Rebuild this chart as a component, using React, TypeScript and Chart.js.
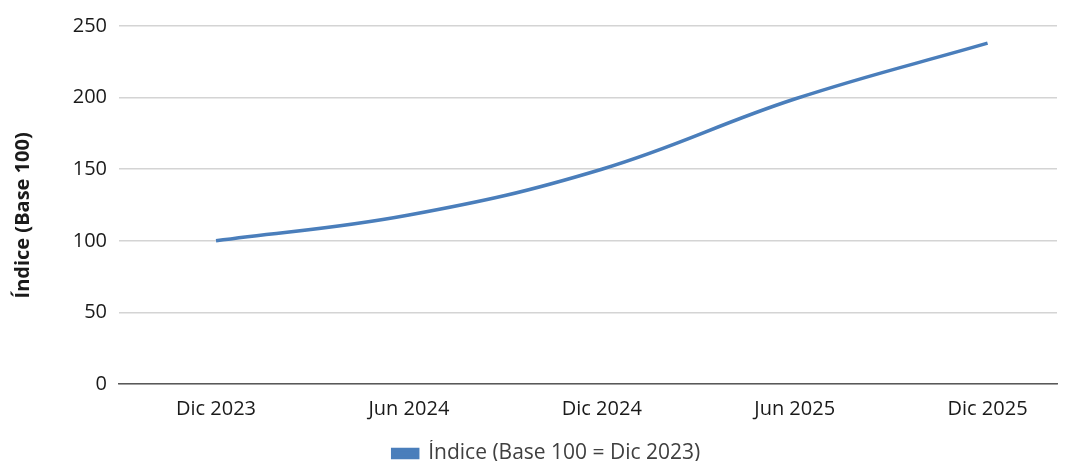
import React, { useEffect, useRef } from "react";
import { Chart, registerables } from "chart.js";

Chart.register(...registerables);

const categories = ["Dic 2023", "Jun 2024", "Dic 2024", "Jun 2025", "Dic 2025"];
const indexValues = [100, 118, 150, 199, 238];
const yTicks = [0, 50, 100, 150, 200, 250];
const seriesLabel = "Índice (Base 100 = Dic 2023)";
const yTitle = "Índice (Base 100)";

const FONT = "'Open Sans', Lato, sans-serif";

const legendShift = {
  id: "legendShift",
  beforeDraw(chart: any) {
    const lg = chart.legend;
    if (lg && !lg._shifted) {
      lg.left += 18;
      lg.right += 18;
      lg._shifted = true;
    }
  },
};

export default function App() {
  const ref = useRef<HTMLCanvasElement>(null);
  useEffect(() => {
    document.body.style.margin = "0";
    const ctx = ref.current!;
    const chart = new Chart(ctx, {
      type: "line",
      data: {
        datasets: [
          {
            label: seriesLabel,
            data: indexValues.map((v, i) => ({ x: i, y: v })),
            borderColor: "#4a7ebb",
            backgroundColor: "#4a7ebb",
            borderWidth: 3.5,
            pointRadius: 0,
            tension: 0.4,
            fill: false,
          },
        ],
      },
      plugins: [legendShift],
      options: {
        animation: false,
        responsive: false,
        maintainAspectRatio: false,
        layout: { padding: { top: 26, right: 14, left: 0, bottom: 0 } },
        plugins: {
          tooltip: { enabled: false },
          legend: {
            position: "bottom",
            labels: {
              boxWidth: 25,
              boxHeight: 8,
              color: "#404040",
              font: { family: FONT, size: 21 },
              padding: 3,
            },
          },
        },
        scales: {
          x: {
            type: "linear",
            min: -0.503,
            max: 4.36,
            afterBuildTicks: (s: any) => {
              s.ticks = categories.map((_, i) => ({ value: i }));
            },
            afterFit: (s: any) => {
              s.height = 56;
            },
            ticks: {
              callback: (v: any) => categories[Number(v)] ?? "",
              color: "#1a1a1a",
              font: { family: FONT, size: 20 },
              padding: 13,
              maxRotation: 0,
            },
            grid: { display: false, drawTicks: false },
            border: { display: true, color: "#595959", width: 1.5 },
          },
          y: {
            min: 0,
            max: 250,
            afterBuildTicks: (s: any) => {
              s.ticks = yTicks.map((v) => ({ value: v }));
            },
            afterFit: (s: any) => {
              s.width = 119;
            },
            ticks: {
              color: "#1a1a1a",
              font: { family: FONT, size: 20 },
              padding: 12,
            },
            grid: { color: "#d4d4d4", lineWidth: 1.5, drawTicks: false },
            border: { display: false },
            title: {
              display: true,
              text: yTitle + "    ",
              color: "#1a1a1a",
              font: { family: FONT, size: 20, weight: "bold" },
              padding: { top: 11, bottom: 0 },
            },
          },
        },
      },
    });
    return () => chart.destroy();
  }, []);
  return (
    <div style={{ position: "absolute", left: 0, top: 0, width: 1071, height: 461, overflow: "hidden", background: "#fff" }}>
      <canvas ref={ref} width={1071} height={474} style={{ display: "block" }} />
    </div>
  );
}
